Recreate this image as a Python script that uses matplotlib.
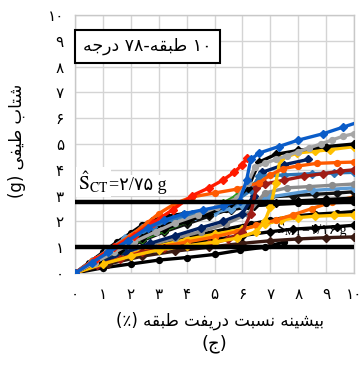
import matplotlib
matplotlib.use("Agg")
import matplotlib.pyplot as plt
from matplotlib.transforms import blended_transform_factory, IdentityTransform

# ---- data (drift %, Sa g) ----
drift_blue = [0, 0.6, 1.2, 1.9, 2.6, 3.2, 3.9, 4.6, 5.3, 5.9, 6.15, 6.3, 6.6, 7.3, 8.0, 8.9, 9.6, 10.3]
sa_blue = [0, 0.4, 0.8, 1.25, 1.75, 2.05, 2.3, 2.45, 2.6, 2.8, 3.6, 4.4, 4.65, 4.9, 5.15, 5.4, 5.65, 5.9]

drift_lgray = [0, 0.7, 1.4, 2.1, 2.9, 3.6, 4.4, 5.1, 5.8, 6.2, 6.45, 6.8, 7.2, 7.6, 8.0, 8.4, 8.8, 9.2, 9.6, 10.0]
sa_lgray = [0, 0.4, 0.8, 1.2, 1.6, 1.95, 2.25, 2.55, 2.9, 3.5, 4.1, 4.25, 4.4, 4.55, 4.7, 4.85, 5.0, 5.15, 5.3, 5.4]

drift_black1 = [0, 0.8, 1.6, 2.4, 3.2, 4.0, 4.8, 5.6, 6.2, 6.6, 7.2, 8.0, 9.0, 10.0]
sa_black1 = [0, 0.45, 0.9, 1.35, 1.7, 2.0, 2.3, 2.7, 3.3, 4.3, 4.6, 4.75, 4.9, 5.0]

drift_yellow1 = [0, 1.0, 2.0, 3.0, 4.0, 5.0, 5.8, 6.5, 6.8, 7.0, 7.2, 7.35, 7.95, 8.6, 9.14, 10.0]
sa_yellow1 = [0, 0.35, 0.65, 0.9, 1.05, 1.2, 1.35, 1.6, 2.0, 2.55, 3.5, 4.4, 4.65, 4.72, 4.78, 4.9]

drift_orange1 = [0, 0.6, 1.3, 2.0, 2.6, 3.0, 3.6, 4.2, 5.0, 5.8, 6.6, 7.0, 7.47, 8.0, 8.67, 9.4, 10.0]
sa_orange1 = [0, 0.45, 0.95, 1.45, 1.95, 2.3, 2.7, 2.95, 3.1, 3.25, 3.5, 3.8, 4.05, 4.15, 4.25, 4.28, 4.3]

drift_red = [0, 0.7, 1.4, 2.1, 2.8, 3.5, 4.2, 4.8, 5.3, 5.7, 6.0, 6.15]
sa_red = [0, 0.5, 1.0, 1.45, 1.95, 2.45, 3.0, 3.3, 3.6, 3.9, 4.2, 4.45]

drift_dred = [0, 0.8, 1.6, 2.4, 3.2, 4.0, 4.8, 5.5, 6.0, 6.3, 6.5, 6.8, 7.5, 8.2, 8.9, 9.5, 10.0]
sa_dred = [0, 0.3, 0.55, 0.8, 0.95, 1.05, 1.15, 1.3, 1.6, 2.3, 3.3, 3.45, 3.6, 3.75, 3.85, 3.95, 4.0]

drift_green = [0, 0.8, 1.6, 2.4, 3.2, 4.0, 4.8, 5.3, 5.8, 6.2, 6.6]
sa_green = [0, 0.45, 0.9, 1.3, 1.65, 2.0, 2.35, 2.7, 3.0, 3.3, 3.6]

drift_navy = [0, 0.9, 1.8, 2.7, 3.6, 4.5, 5.3, 6.0, 6.4, 6.7, 7.5, 8.35]
sa_navy = [0, 0.4, 0.8, 1.15, 1.45, 1.75, 2.0, 2.3, 3.0, 3.9, 4.2, 4.4]

drift_mblue = [0, 0.7, 1.4, 2.1, 2.8, 3.5, 4.2, 5.0, 5.7, 6.3, 6.6, 7.5, 8.5, 9.3, 10.0]
sa_mblue = [0, 0.45, 0.9, 1.35, 1.8, 2.1, 2.3, 2.5, 2.75, 3.2, 3.75, 3.8, 3.85, 3.88, 3.9]

drift_gray = [0, 0.9, 1.8, 2.7, 3.6, 4.5, 5.4, 6.2, 6.8, 7.6, 8.4, 9.2, 10.0]
sa_gray = [0, 0.4, 0.8, 1.1, 1.35, 1.6, 1.9, 2.3, 3.1, 3.3, 3.35, 3.4, 3.45]

drift_black2 = [0, 0.8, 1.6, 2.4, 3.2, 4.0, 4.8, 5.6, 6.4, 7.0, 7.8, 8.6, 9.4, 10.0]
sa_black2 = [0, 0.4, 0.8, 1.25, 1.6, 1.9, 2.2, 2.5, 2.8, 2.95, 3.0, 3.05, 3.1, 3.15]

drift_black3 = [0, 1.0, 2.0, 2.6, 3.2, 4.0, 4.8, 5.6, 6.4, 7.2, 8.0, 9.0, 10.0]
sa_black3 = [0, 0.5, 1.1, 1.6, 1.9, 2.1, 2.3, 2.45, 2.6, 2.7, 2.8, 2.85, 2.9]

drift_yellow2 = [0, 1.0, 2.0, 3.0, 4.0, 5.0, 6.0, 6.8, 7.4, 8.0, 8.6, 9.3, 10.0]
sa_yellow2 = [0, 0.4, 0.75, 1.05, 1.3, 1.5, 1.7, 1.9, 2.05, 2.15, 2.2, 2.23, 2.25]

drift_black4 = [0, 0.9, 1.8, 2.7, 3.6, 4.5, 5.4, 6.3, 7.0, 7.8, 8.6, 9.4, 10.0]
sa_black4 = [0, 0.35, 0.7, 1.0, 1.25, 1.5, 1.7, 1.9, 2.05, 2.2, 2.28, 2.33, 2.38]

drift_black5 = [0, 1.0, 2.0, 3.0, 4.0, 5.0, 6.0, 7.0, 7.8, 8.6, 9.4, 10.0]
sa_black5 = [0, 0.35, 0.65, 0.9, 1.1, 1.3, 1.45, 1.6, 1.7, 1.75, 1.8, 1.85]

drift_brown = [0, 1.2, 2.4, 3.6, 4.8, 6.0, 7.0, 8.0, 9.0, 10.0]
sa_brown = [0, 0.35, 0.65, 0.85, 1.0, 1.15, 1.25, 1.32, 1.37, 1.4]

drift_black6 = [0, 1.0, 2.0, 3.0, 4.0, 5.0, 5.9, 6.8, 7.5]
sa_black6 = [0, 0.2, 0.35, 0.5, 0.6, 0.72, 0.88, 1.0, 1.2]

drift_orange2 = [0, 1.0, 2.0, 3.0, 4.0, 5.0, 5.8, 6.5, 7.2, 7.8, 8.5, 9.2, 10.0]
sa_orange2 = [0, 0.4, 0.7, 1.0, 1.2, 1.4, 1.6, 1.85, 2.05, 2.25, 2.5, 2.75, 2.95]

drift_lblue = [0, 0.6, 1.2, 1.8, 2.4, 3.0, 3.6, 4.3, 5.0, 5.6, 6.0, 7.0, 8.5, 10.0]
sa_lblue = [0, 0.45, 0.9, 1.35, 1.75, 2.0, 2.1, 2.2, 2.35, 2.5, 2.65, 2.95, 3.2, 3.3]

drift_black7 = [0, 0.5, 1.0, 1.5, 2.0, 2.4, 2.8, 3.3, 3.9, 4.6, 5.4, 6.2, 7.0, 8.0, 9.0, 10.0]
sa_black7 = [0, 0.4, 0.8, 1.2, 1.55, 1.85, 2.05, 2.2, 2.3, 2.4, 2.5, 2.6, 2.65, 2.7, 2.72, 2.75]

s_ct = 2.75
s_mt = 1.0

tick_values = list(range(11))
fa_digits = "۰۱۲۳۴۵۶۷۸۹"

title_text = "۱۰ طبقه-۷۸ درجه"
x_title = "بیشینه نسبت دریفت طبقه (٪)"
y_title = "شتاب طیفی (g)"
panel_text = "(ج)"

# ---- minimal Persian shaping (presentation forms) + visual reordering ----
FORMS = {  # isolated, final, initial, medial
    "ا": ("\uFE8D", "\uFE8E", None, None),
    "ب": ("\uFE8F", "\uFE90", "\uFE91", "\uFE92"),
    "ت": ("\uFE95", "\uFE96", "\uFE97", "\uFE98"),
    "ج": ("\uFE9D", "\uFE9E", "\uFE9F", "\uFEA0"),
    "د": ("\uFEA9", "\uFEAA", None, None),
    "ر": ("\uFEAD", "\uFEAE", None, None),
    "س": ("\uFEB1", "\uFEB2", "\uFEB3", "\uFEB4"),
    "ش": ("\uFEB5", "\uFEB6", "\uFEB7", "\uFEB8"),
    "ط": ("\uFEC1", "\uFEC2", "\uFEC3", "\uFEC4"),
    "ف": ("\uFED1", "\uFED2", "\uFED3", "\uFED4"),
    "ق": ("\uFED5", "\uFED6", "\uFED7", "\uFED8"),
    "ن": ("\uFEE5", "\uFEE6", "\uFEE7", "\uFEE8"),
    "ه": ("\uFEE9", "\uFEEA", "\uFEEB", "\uFEEC"),
    "ی": ("\uFEEF", "\uFEF0", "\uFEF3", "\uFEF4"),
}
MIRROR = {"(": ")", ")": "("}


def shape(s):
    out = []
    for i, c in enumerate(s):
        if c not in FORMS:
            out.append(c)
            continue
        prev = s[i - 1] if i > 0 else ""
        nxt = s[i + 1] if i + 1 < len(s) else ""
        join_prev = prev in FORMS and FORMS[prev][2] is not None
        join_next = nxt in FORMS and FORMS[c][2] is not None
        iso, fin, ini, med = FORMS[c]
        if join_prev and join_next:
            out.append(med)
        elif join_prev:
            out.append(fin)
        elif join_next:
            out.append(ini)
        else:
            out.append(iso)
    return "".join(out)


def fa(s):
    rev = shape(s)[::-1]
    # put runs of digits / latin back in left-to-right order
    res, run = [], ""
    for c in rev:
        if c.isdigit() or c.isascii() and c.isalpha():
            run += c
        else:
            if run:
                res.append(run[::-1])
                run = ""
            res.append(MIRROR.get(c, c))
    if run:
        res.append(run[::-1])
    return "".join(res)


def fa_num(n):
    return "".join(fa_digits[int(d)] for d in str(n))


plt.rcParams["font.family"] = ["DejaVu Sans"]
plt.rcParams["mathtext.fontset"] = "stix"

fig = plt.figure(figsize=(3.61, 3.72), dpi=100)
ax = fig.add_axes([75 / 361, 1 - 273 / 372, 279 / 361, 258 / 372])

curves = [
    (drift_black6, sa_black6, "#000000", "o"),
    (drift_brown, sa_brown, "#3A1A12", "D"),
    (drift_black5, sa_black5, "#000000", "D"),
    (drift_black4, sa_black4, "#000000", "o"),
    (drift_yellow2, sa_yellow2, "#FFC000", "D"),
    (drift_orange2, sa_orange2, "#FF6600", "o"),
    (drift_black3, sa_black3, "#000000", "D"),
    (drift_black7, sa_black7, "#000000", "o"),
    (drift_black2, sa_black2, "#111111", "D"),
    (drift_lblue, sa_lblue, "#5B9BD5", "D"),
    (drift_gray, sa_gray, "#8C8C8C", "o"),
    (drift_navy, sa_navy, "#002060", "D"),
    (drift_green, sa_green, "#2E9A1E", "D"),
    (drift_mblue, sa_mblue, "#2E75B6", "D"),
    (drift_dred, sa_dred, "#A01C14", "D"),
    (drift_yellow1, sa_yellow1, "#FFC000", "D"),
    (drift_orange1, sa_orange1, "#FF5A00", "o"),
    (drift_black1, sa_black1, "#000000", "D"),
    (drift_lgray, sa_lgray, "#A6A6A6", "o"),
    (drift_red, sa_red, "#FF1A00", "D"),
    (drift_blue, sa_blue, "#0A5CC8", "D"),
]
for x, y, c, m in curves:
    ax.plot(x, y, color=c, lw=2.4, marker=m, ms=4.2, mec=c, mfc=c, zorder=3)

ax.axhline(s_ct, color="black", lw=3.2, zorder=5)
ax.axhline(s_mt, color="black", lw=3.2, zorder=5)

ax.set_xlim(0, 10)
ax.set_ylim(0, 10)
ax.set_xticks(tick_values)
ax.set_yticks(tick_values)
ax.set_xticklabels([fa_num(v) for v in tick_values], fontsize=11)
ax.set_yticklabels([fa_num(v) for v in tick_values], fontsize=11)
ax.tick_params(length=0)
ax.tick_params(axis="x", pad=10)
ax.tick_params(axis="y", pad=8)
ax.grid(color="#D4D4D4", lw=1.0)
ax.set_axisbelow(True)
for sp in ax.spines.values():
    sp.set_color("#C8C8C8")
    sp.set_linewidth(1.0)

# title box
ax.text(2.6, 8.78, fa(title_text), fontsize=12.5, ha="center", va="center", zorder=8,
        bbox=dict(boxstyle="square,pad=0.45", fc="white", ec="black", lw=1.5))

# S_CT label with the digits next to it
t1 = ax.text(0.12, 3.22, r"$\hat{\mathrm{S}}_{\mathrm{CT}}$", fontsize=14, va="baseline",
             zorder=7, bbox=dict(boxstyle="square,pad=0.1", fc="white", ec="none"))
# S_MT label sits under the curves, as in the reference
t3 = ax.text(7.2, 1.52, r"$\hat{\mathrm{S}}_{\mathrm{MT}}$", fontsize=11, va="baseline", zorder=2)
fig.canvas.draw()
tr = blended_transform_factory(IdentityTransform(), ax.transData)
x1 = t1.get_window_extent().x1
ax.text(x1, 3.22, "=" + fa_num(2) + "/" + fa_num(75) + " g", transform=tr, fontsize=13,
        family=["Liberation Serif", "DejaVu Sans"], va="baseline", zorder=7,
        bbox=dict(boxstyle="square,pad=0.1", fc="white", ec="none"))
x3 = t3.get_window_extent().x1
ax.text(x3, 1.52, "=" + fa_num(1) + "/" + fa_num(16) + " g", transform=tr, fontsize=10,
        family=["Liberation Serif", "DejaVu Sans"], va="baseline", zorder=2)

fig.text(220 / 361, 1 - 321 / 372, fa(x_title), fontsize=12, ha="center", va="center")
fig.text(17 / 361, 1 - 141 / 372, fa(y_title), fontsize=12, ha="center", va="center",
         rotation=90)
fig.text(214 / 361, 1 - 344 / 372, fa(panel_text), fontsize=13, ha="center", va="center")

fig.savefig("out.png", dpi=100)
